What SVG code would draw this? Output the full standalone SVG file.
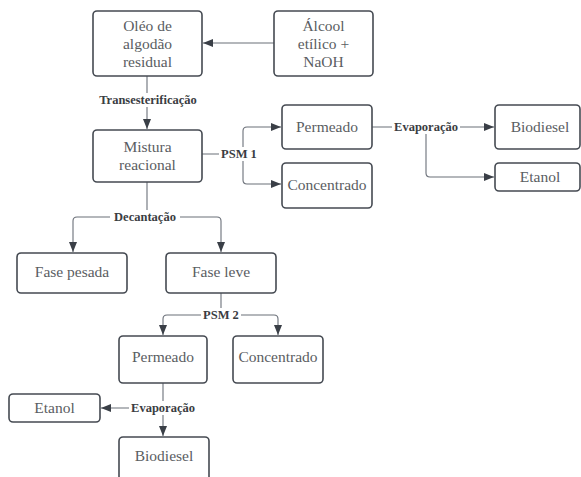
<svg xmlns="http://www.w3.org/2000/svg" width="581" height="477" viewBox="0 0 581 477">
<defs>
<marker id="ah" viewBox="0 0 10 8" refX="10" refY="4" markerWidth="10" markerHeight="8" markerUnits="userSpaceOnUse" orient="auto">
<path d="M0,0 L10,4 L0,8 Z" fill="#3a3f47"/>
</marker>
<style>
.box{fill:#fff;stroke:#454a52;stroke-width:1.6}
.t{font-family:'Liberation Serif','Times New Roman','DejaVu Serif',serif;font-size:15.5px;fill:#5a5d62;text-anchor:middle}
.c{fill:none;stroke:#6b7079;stroke-width:1.1}
.a{marker-end:url(#ah)}
.lb{font-family:'Liberation Serif','Times New Roman','DejaVu Serif',serif;font-size:12.5px;font-weight:bold;fill:#3a3d42;text-anchor:middle}
.bg{fill:#fff}
</style>
</defs>
<rect width="581" height="477" fill="#fff"/>
<g id="connectors">
<path class="c a" d="M274,43 H203"/>
<path class="c a" d="M147,76 V129"/>
<path class="c" d="M202,154 H243"/>
<path class="c a" d="M243,154 V131 Q243,127 247,127 H281"/>
<path class="c a" d="M243,154 V180 Q243,184 247,184 H281"/>
<path class="c a" d="M372,127 H494"/>
<path class="c a" d="M426,127 V173 Q426,177 430,177 H494"/>
<path class="c" d="M147,182 V217"/>
<path class="c a" d="M147,217 H77 Q73,217 73,221 V252"/>
<path class="c a" d="M147,217 H217 Q221,217 221,221 V252"/>
<path class="c" d="M221,293 V315"/>
<path class="c a" d="M221,315 H167 Q163,315 163,319 V335"/>
<path class="c a" d="M221,315 H274 Q278,315 278,319 V335"/>
<path class="c a" d="M163,383 V436"/>
<path class="c a" d="M163,408 H101"/>
<rect class="bg" x="96" y="93" width="104" height="14"/>
<text class="lb" x="148" y="104">Transesterificação</text>
<rect class="bg" x="219" y="147" width="40" height="14"/>
<text class="lb" x="239" y="158">PSM 1</text>
<rect class="bg" x="392" y="120" width="68" height="14"/>
<text class="lb" x="426" y="131">Evaporação</text>
<rect class="bg" x="110" y="210" width="70" height="14"/>
<text class="lb" x="145" y="221">Decantação</text>
<rect class="bg" x="201" y="308" width="40" height="14"/>
<text class="lb" x="221" y="319">PSM 2</text>
<rect class="bg" x="129" y="401" width="68" height="14"/>
<text class="lb" x="163" y="412">Evaporação</text>
</g>
<g id="oleo"><rect class="box" x="93" y="11" width="109" height="65" rx="4"/>
<text class="t" x="147.5" y="31">Oléo de</text><text class="t" x="147.5" y="49">algodão</text><text class="t" x="147.5" y="67">residual</text></g>
<g id="alcool"><rect class="box" x="274" y="11" width="99" height="65" rx="4"/>
<text class="t" x="323.5" y="31">Álcool</text><text class="t" x="323.5" y="49">etílico +</text><text class="t" x="323.5" y="67">NaOH</text></g>
<g id="mistura"><rect class="box" x="93" y="130" width="109" height="52" rx="4"/>
<text class="t" x="147.5" y="152">Mistura</text><text class="t" x="147.5" y="170">reacional</text></g>
<g id="permeado1"><rect class="box" x="282" y="105" width="90" height="44" rx="4"/>
<text class="t" x="327" y="132">Permeado</text></g>
<g id="concentrado1"><rect class="box" x="282" y="163" width="90" height="45" rx="4"/>
<text class="t" x="327" y="190">Concentrado</text></g>
<g id="biodiesel1"><rect class="box" x="495" y="105" width="85" height="44" rx="4"/>
<text class="t" x="540" y="132">Biodiesel</text></g>
<g id="etanol1"><rect class="box" x="495" y="163" width="85" height="28" rx="4"/>
<text class="t" x="540" y="182">Etanol</text></g>
<g id="fasepesada"><rect class="box" x="17" y="253" width="110" height="40" rx="4"/>
<text class="t" x="72" y="277">Fase pesada</text></g>
<g id="faseleve"><rect class="box" x="166" y="253" width="110" height="40" rx="4"/>
<text class="t" x="221" y="277">Fase leve</text></g>
<g id="permeado2"><rect class="box" x="119" y="336" width="88" height="47" rx="4"/>
<text class="t" x="163" y="362">Permeado</text></g>
<g id="concentrado2"><rect class="box" x="233" y="336" width="90" height="47" rx="4"/>
<text class="t" x="278" y="362">Concentrado</text></g>
<g id="etanol2"><rect class="box" x="9" y="394" width="91" height="28" rx="4"/>
<text class="t" x="54.5" y="413">Etanol</text></g>
<g id="biodiesel2"><rect class="box" x="119" y="437" width="90" height="50" rx="4"/>
<text class="t" x="164" y="461">Biodiesel</text></g>
</svg>
